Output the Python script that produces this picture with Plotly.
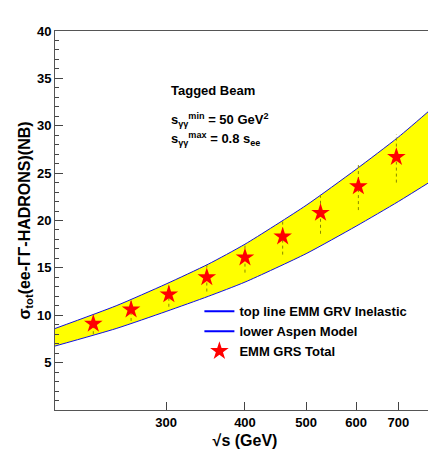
import plotly.graph_objects as go

band_x = [200, 250, 300, 350, 400, 500, 600, 700, 800]
band_top = [8.6, 11.0, 13.3, 15.4, 17.5, 21.6, 25.4, 28.8, 32.1]
band_low = [6.75, 8.6, 10.4, 12.0, 13.5, 16.5, 19.4, 22.0, 24.4]

star_x = [230, 264, 303, 348, 400, 459, 527, 605, 695]
star_y = [9.1, 10.6, 12.2, 14.0, 16.1, 18.3, 20.8, 23.6, 26.7]
err_up = [0.8, 0.9, 1.1, 1.3, 1.4, 1.8, 1.9, 2.4, 2.4]
err_dn = [1.1, 1.2, 1.3, 1.5, 1.6, 1.9, 2.2, 2.5, 2.7]

font = dict(family="Liberation Sans", size=13, color="black", weight="bold")
fig = go.Figure()
fig.add_trace(go.Scatter(x=band_x, y=band_low, mode="lines", line=dict(color="#1010e0", width=1, shape="spline", smoothing=0.6),
                         showlegend=False))
fig.add_trace(go.Scatter(x=band_x, y=band_top, mode="lines", fill="tonexty", fillcolor="#ffff00",
                         line=dict(color="#1010e0", width=1, shape="spline", smoothing=0.6), showlegend=False))
fig.add_trace(go.Scatter(x=[None], y=[None], mode="lines", line=dict(color="#0000ff", width=2), name="top line EMM GRV Inelastic"))
fig.add_trace(go.Scatter(x=[None], y=[None], mode="lines", line=dict(color="#0000ff", width=2), name="lower Aspen Model"))
for x, y, u, d in zip(star_x, star_y, err_up, err_dn):
    fig.add_trace(go.Scatter(x=[x, x], y=[y - d, y + u], mode="lines", line=dict(color="#888800", width=1, dash="dot"),
                             showlegend=False, hoverinfo="skip"))
fig.add_trace(go.Scatter(x=star_x, y=star_y, mode="markers", name="EMM GRS Total",
                         marker=dict(symbol="star", size=14, color="red", line=dict(width=0))))

fig.add_annotation(x=0.3, y=0.868, xref="paper", yref="paper", text="Tagged Beam", showarrow=False, xanchor="left", font=font)
fig.add_annotation(x=0.3, y=0.795, xref="paper", yref="paper", text="s<sub>γγ</sub><sup>min</sup> = 50 GeV<sup>2</sup>",
                   showarrow=False, xanchor="left", font=font)
fig.add_annotation(x=0.3, y=0.745, xref="paper", yref="paper", text="s<sub>γγ</sub><sup>max</sup> = 0.8 s<sub>ee</sub>",
                   showarrow=False, xanchor="left", font=font)

fig.update_layout(
    width=436, height=470, margin=dict(l=47, r=9, t=23, b=68),
    plot_bgcolor="white", paper_bgcolor="white", font=font,
    legend=dict(x=0.38, y=0.3, xanchor="left", yanchor="top", bgcolor="rgba(0,0,0,0)", font=dict(size=13),
                traceorder="normal", tracegroupgap=0),
)
fig.update_xaxes(type="log", range=[2.30103, 2.9032], tickvals=[300, 400, 500, 600, 700, 800],
                 ticktext=["300", "400", "500", "600", "700", "800"], ticks="inside", ticklen=8,
                 showline=True, linecolor="#555", mirror=True, showgrid=False, zeroline=False,
                 title=dict(text="√s (GeV)", standoff=6), tickfont=font)
fig.update_yaxes(range=[0, 40], tickvals=[5, 10, 15, 20, 25, 30, 35, 40], ticks="inside", ticklen=8,
                 minor=dict(dtick=1, ticks="inside", ticklen=4),
                 showline=True, linecolor="#555", mirror=True, showgrid=False, zeroline=False,
                 title=dict(text="σ<sub>tot</sub>(ee-ΓΓ-HADRONS)(NB)", standoff=2), tickfont=font)
fig.write_html("out.html")
